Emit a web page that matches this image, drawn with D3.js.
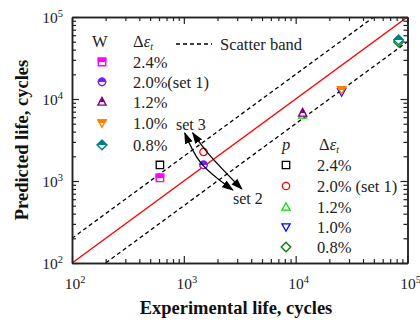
<!DOCTYPE html>
<html><head><meta charset="utf-8">
<script src="https://cdn.jsdelivr.net/npm/d3@7/dist/d3.min.js"></script>
<style>
body{margin:0;background:#fff;}
svg{display:block;font-family:"Liberation Serif","Times New Roman",serif;}
</style></head>
<body><svg id="c" width="420" height="323"></svg>
<script>
// ---- data ----
const strainLabels = ["2.4%", "2.0%(set 1)", "1.2%", "1.0%", "0.8%"];
const strainLabelsP = ["2.4%", "2.0% (set 1)", "1.2%", "1.0%", "0.8%"];
const expLife = [611, 1500, 11550, 25760, 83200];
const predW = [1090, 1570, 6750, 12900, 52500];
const predP = [1570, 2260, 6400, 12200, 49500];
const colorsW = ["#ff00ff", "#7a1ff2", "#800080", "#ff8000", "#008080"];
const colorsP = ["#000000", "#ff0000", "#00e000", "#0000ff", "#008000"];
const shapes = ["square", "circle", "triangle", "triangleDown", "diamond"];
const majorTicks = [1e2, 1e3, 1e4, 1e5];
const tickExponents = ["2", "3", "4", "5"];
const scatterFactor = 2;
// annotation arrows (data units)
const arrowSet3a = [[1020, 3850], [1420, 1660], [2740, 776]];
const arrowSet3b = [[1200, 3850], [1640, 2190], [3300, 798]];

const svg = d3.select("#c");
const L = 72, R = 407.5, T = 17, B = 263;
const x = d3.scaleLog().domain([1e2, 1e5]).range([L, R]);
const y = d3.scaleLog().domain([1e2, 1e5]).range([B, T]);

const minorTicks = [];
for (let e = 2; e < 5; e++) for (let m = 2; m <= 9; m++) minorTicks.push(m * Math.pow(10, e));

const defs = svg.append("defs");
defs.append("marker").attr("id", "ah").attr("viewBox", "0 0 10 10").attr("refX", 9).attr("refY", 5)
  .attr("markerWidth", 9).attr("markerHeight", 9).attr("orient", "auto-start-reverse")
  .append("path").attr("d", "M0,1.5 L10,5 L0,8.5 Z").attr("fill", "#000");

const plot = svg.append("g");
plot.append("clipPath").attr("id", "pc").append("rect").attr("x", L).attr("y", T).attr("width", R - L).attr("height", B - T);

// lines
const lineG = plot.append("g").attr("clip-path", "url(#pc)");
const lineFn = d3.line().x(d => x(d[0])).y(d => y(d[1]));
lineG.append("path").attr("d", lineFn([[1e2, 1e2], [1e5, 1e5]])).attr("stroke", "#ff0000").attr("stroke-width", 1.4).attr("fill", "none");
lineG.append("path").attr("d", lineFn([[1e2, 1e2 * scatterFactor], [1e5, 1e5 * scatterFactor]])).attr("stroke", "#000").attr("stroke-width", 1.3).attr("stroke-dasharray", "4,3").attr("fill", "none");
lineG.append("path").attr("d", lineFn([[1e2, 1e2 / scatterFactor], [1e5, 1e5 / scatterFactor]])).attr("stroke", "#000").attr("stroke-width", 1.3).attr("stroke-dasharray", "4,3").attr("fill", "none");

// axes
function addAxis(axisGen, transform, size, vals) {
  const g = svg.append("g").attr("transform", transform)
    .call(axisGen.tickValues(vals).tickSizeInner(size).tickSizeOuter(0).tickFormat(""));
  g.select(".domain").attr("stroke", "#222").attr("stroke-width", 1.5);
  g.selectAll(".tick line").attr("stroke", "#222").attr("stroke-width", 1.2);
}
addAxis(d3.axisBottom(x), `translate(0,${B})`, -7, majorTicks);
addAxis(d3.axisBottom(x), `translate(0,${B})`, -4, minorTicks);
addAxis(d3.axisTop(x), `translate(0,${T})`, -7, majorTicks);
addAxis(d3.axisTop(x), `translate(0,${T})`, -4, minorTicks);
addAxis(d3.axisLeft(y), `translate(${L},0)`, -7, majorTicks);
addAxis(d3.axisLeft(y), `translate(${L},0)`, -4, minorTicks);
addAxis(d3.axisRight(y), `translate(${R},0)`, -7, majorTicks);
addAxis(d3.axisRight(y), `translate(${R},0)`, -4, minorTicks);

// tick labels
majorTicks.forEach((v, i) => {
  const tx = svg.append("text").attr("x", x(v) + 3).attr("y", 289).attr("text-anchor", "middle").attr("font-size", 15.5).attr("fill", "#222");
  tx.append("tspan").text("10");
  tx.append("tspan").attr("dy", -6).attr("font-size", 10.5).text(tickExponents[i]);
  const ty = svg.append("text").attr("x", 63).attr("y", y(v) + 6).attr("text-anchor", "end").attr("font-size", 15.5).attr("fill", "#222");
  ty.append("tspan").text("10");
  ty.append("tspan").attr("dy", -6).attr("font-size", 10.5).text(tickExponents[i]);
});

svg.append("text").attr("x", 236).attr("y", 314).attr("text-anchor", "middle").attr("font-size", 18.5).attr("font-weight", "bold").attr("fill", "#111").text("Experimental life, cycles");
svg.append("text").attr("transform", `translate(28,${(T + B) / 2}) rotate(-90)`).attr("text-anchor", "middle").attr("font-size", 18.5).attr("font-weight", "bold").attr("fill", "#111").text("Predicted life, cycles");

// marker shapes
function shapePath(s, r) {
  if (s === "square") return `M${-r},${-r}H${r}V${r}H${-r}Z`;
  if (s === "circle") return `M${-r},0A${r},${r} 0 1,1 ${r},0A${r},${r} 0 1,1 ${-r},0Z`;
  if (s === "triangle") return `M0,${-r * 1.15}L${r * 1.1},${r * 0.85}L${-r * 1.1},${r * 0.85}Z`;
  if (s === "triangleDown") return `M0,${r * 1.15}L${r * 1.1},${-r * 0.85}L${-r * 1.1},${-r * 0.85}Z`;
  if (s === "diamond") return `M0,${-r * 1.3}L${r * 1.3},0L0,${r * 1.3}L${-r * 1.3},0Z`;
}
defs.append("clipPath").attr("id", "tophalf").append("rect").attr("x", -10).attr("y", -10).attr("width", 20).attr("height", 10);
function halfMarker(g, cx, cy, s, col) {
  const m = g.append("g").attr("transform", `translate(${cx},${cy})`);
  m.append("path").attr("d", shapePath(s, 3.7)).attr("fill", "#fff").attr("stroke", col).attr("stroke-width", 1.4);
  m.append("path").attr("d", shapePath(s, 3.7)).attr("fill", col).attr("stroke", col).attr("stroke-width", 1.4).attr("clip-path", "url(#tophalf)");
}
function openMarker(g, cx, cy, s, col) {
  g.append("path").attr("transform", `translate(${cx},${cy})`).attr("d", shapePath(s, 3.7)).attr("fill", "none").attr("stroke", col).attr("stroke-width", 1.3);
}

// data points
const pts = svg.append("g");
expLife.forEach((e, i) => openMarker(pts, x(e), y(predP[i]), shapes[i], colorsP[i]));
expLife.forEach((e, i) => halfMarker(pts, x(e), y(predW[i]), shapes[i], colorsW[i]));

// arrows
const curve = d3.line().x(d => x(d[0])).y(d => y(d[1])).curve(d3.curveCatmullRom);
[arrowSet3a, arrowSet3b].forEach(a => {
  svg.append("path").attr("d", curve(a)).attr("fill", "none").attr("stroke", "#000").attr("stroke-width", 1.3)
    .attr("marker-start", "url(#ah)").attr("marker-end", "url(#ah)");
});
svg.append("text").attr("x", 176).attr("y", 130).attr("font-size", 16).attr("fill", "#222").text("set 3");
svg.append("text").attr("x", 233).attr("y", 204).attr("font-size", 16).attr("fill", "#222").text("set 2");

// legend W
const lg = svg.append("g").attr("font-size", 16.5).attr("fill", "#222");
lg.append("text").attr("x", 92).attr("y", 47).text("W");
function deltaEps(g, xx, yy) {
  const t = g.append("text").attr("x", xx).attr("y", yy);
  t.append("tspan").text("Δ");
  t.append("tspan").attr("font-style", "italic").text("ε");
  t.append("tspan").attr("dy", 3).attr("font-size", 10).attr("font-style", "italic").text("t");
}
deltaEps(lg, 133, 47);
const rowsW = [62, 82, 102, 123, 145];
strainLabels.forEach((s, i) => {
  halfMarker(lg, 102, rowsW[i], shapes[i], colorsW[i]);
  lg.append("text").attr("x", 133).attr("y", rowsW[i] + 5.5).text(s);
});
lg.append("line").attr("x1", 176).attr("x2", 212).attr("y1", 44).attr("y2", 44).attr("stroke", "#000").attr("stroke-width", 1.3).attr("stroke-dasharray", "4,3");
lg.append("text").attr("x", 220).attr("y", 50).text("Scatter band");

// legend p
lg.append("text").attr("x", 282).attr("y", 150).attr("font-style", "italic").text("p");
deltaEps(lg, 319, 150);
const rowsP = [165, 186, 207, 227, 247];
strainLabelsP.forEach((s, i) => {
  openMarker(lg, 286, rowsP[i], shapes[i], colorsP[i]);
  lg.append("text").attr("x", 317).attr("y", rowsP[i] + 5.5).text(s);
});
</script></body></html>
